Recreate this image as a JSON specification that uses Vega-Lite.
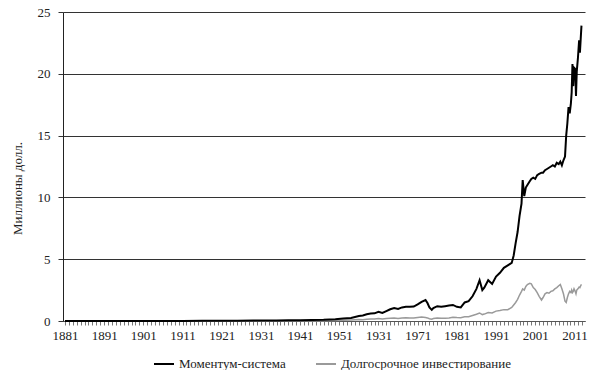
{
  "$schema": "https://vega.github.io/schema/vega-lite/v6.json",
  "width": 522,
  "height": 309,
  "autosize": {"type": "none"},
  "padding": {"left": 63, "top": 12, "right": 24, "bottom": 49},
  "background": "white",
  "config": {
    "font": "Liberation Serif",
    "view": {"stroke": null},
    "axis": {"labelFont": "Liberation Serif", "labelFontSize": 13, "labelColor": "#222", "titleFont": "Liberation Serif", "titleFontWeight": "normal", "titleColor": "#222"},
    "legend": {"labelFont": "Liberation Serif", "labelFontSize": 13, "labelColor": "#222", "labelLimit": 400}
  },
  "data": {"values": [
    {"t":1881,"m":0.001,"l":0.001},{"t":1886,"m":0.002,"l":0.002},{"t":1891,"m":0.003,"l":0.002},{"t":1896,"m":0.004,"l":0.003},
    {"t":1901,"m":0.006,"l":0.004},{"t":1906,"m":0.008,"l":0.005},{"t":1911,"m":0.01,"l":0.005},{"t":1916,"m":0.013,"l":0.006},
    {"t":1921,"m":0.015,"l":0.006},{"t":1925,"m":0.025,"l":0.01},{"t":1929,"m":0.04,"l":0.02},{"t":1932,"m":0.035,"l":0.008},
    {"t":1935,"m":0.05,"l":0.015},{"t":1938,"m":0.06,"l":0.015},{"t":1941,"m":0.07,"l":0.015},{"t":1944,"m":0.09,"l":0.025},
    {"t":1947,"m":0.1,"l":0.03},{"t":1950,"m":0.15,"l":0.04},{"t":1952,"m":0.2,"l":0.06},{"t":1954,"m":0.25,"l":0.09},
    {"t":1956,"m":0.4,"l":0.12},{"t":1957,"m":0.45,"l":0.11},{"t":1958,"m":0.55,"l":0.14},{"t":1959,"m":0.6,"l":0.16},
    {"t":1960,"m":0.62,"l":0.16},{"t":1961,"m":0.75,"l":0.2},{"t":1962,"m":0.65,"l":0.17},{"t":1963,"m":0.8,"l":0.2},
    {"t":1964,"m":0.95,"l":0.22},{"t":1965,"m":1.05,"l":0.24},{"t":1966,"m":0.98,"l":0.21},{"t":1967,"m":1.1,"l":0.25},
    {"t":1968,"m":1.15,"l":0.27},{"t":1969,"m":1.15,"l":0.25},{"t":1970,"m":1.17,"l":0.24},{"t":1971,"m":1.35,"l":0.28},
    {"t":1972,"m":1.55,"l":0.32},{"t":1973,"m":1.7,"l":0.28},{"t":1973.5,"m":1.45,"l":0.25},{"t":1974,"m":1.1,"l":0.18},
    {"t":1974.6,"m":0.9,"l":0.15},{"t":1975,"m":1.05,"l":0.2},{"t":1976,"m":1.2,"l":0.24},{"t":1977,"m":1.15,"l":0.22},
    {"t":1978,"m":1.2,"l":0.22},{"t":1979,"m":1.25,"l":0.25},{"t":1980,"m":1.3,"l":0.3},{"t":1981,"m":1.15,"l":0.28},
    {"t":1982,"m":1.1,"l":0.27},{"t":1983,"m":1.5,"l":0.35},{"t":1984,"m":1.6,"l":0.35},{"t":1985,"m":2.0,"l":0.45},
    {"t":1986,"m":2.6,"l":0.55},{"t":1986.8,"m":3.3,"l":0.65},{"t":1987.5,"m":2.5,"l":0.52},{"t":1988,"m":2.7,"l":0.56},
    {"t":1989,"m":3.3,"l":0.68},{"t":1990,"m":3.0,"l":0.65},{"t":1991,"m":3.6,"l":0.8},{"t":1992,"m":3.9,"l":0.85},
    {"t":1993,"m":4.3,"l":0.92},{"t":1994,"m":4.5,"l":0.92},{"t":1995,"m":4.7,"l":1.1},{"t":1995.5,"m":5.3,"l":1.3},
    {"t":1996,"m":6.3,"l":1.5},{"t":1996.5,"m":7.2,"l":1.75},{"t":1997,"m":8.5,"l":2.1},{"t":1997.5,"m":9.5,"l":2.4},
    {"t":1997.8,"m":11.4,"l":2.6},{"t":1998.2,"m":10.1,"l":2.5},{"t":1998.6,"m":10.8,"l":2.8},{"t":1999,"m":11.0,"l":2.95},
    {"t":1999.6,"m":11.3,"l":3.05},{"t":2000,"m":11.5,"l":3.0},{"t":2000.5,"m":11.6,"l":2.7},{"t":2001,"m":11.5,"l":2.55},
    {"t":2001.5,"m":11.8,"l":2.3},{"t":2002,"m":11.9,"l":2.0},{"t":2002.6,"m":12.0,"l":1.7},{"t":2003,"m":12.0,"l":1.9},
    {"t":2003.5,"m":12.2,"l":2.2},{"t":2004,"m":12.3,"l":2.3},{"t":2004.5,"m":12.4,"l":2.25},{"t":2005,"m":12.5,"l":2.4},
    {"t":2005.5,"m":12.6,"l":2.45},{"t":2006,"m":12.5,"l":2.6},{"t":2006.5,"m":12.8,"l":2.7},{"t":2007,"m":12.7,"l":2.85},
    {"t":2007.4,"m":12.9,"l":2.95},{"t":2007.8,"m":12.6,"l":2.6},{"t":2008.2,"m":13.0,"l":2.2},{"t":2008.6,"m":13.3,"l":1.6},
    {"t":2008.9,"m":15.0,"l":1.5},{"t":2009.2,"m":16.0,"l":1.9},{"t":2009.5,"m":17.3,"l":2.2},{"t":2009.8,"m":16.8,"l":2.4},
    {"t":2010.1,"m":17.6,"l":2.3},{"t":2010.3,"m":18.5,"l":2.5},{"t":2010.5,"m":20.8,"l":2.3},{"t":2010.7,"m":19.0,"l":2.4},
    {"t":2010.9,"m":20.5,"l":2.6},{"t":2011.2,"m":20.4,"l":2.4},{"t":2011.4,"m":18.2,"l":2.2},{"t":2011.6,"m":20.2,"l":2.5},
    {"t":2011.9,"m":21.3,"l":2.6},{"t":2012.2,"m":22.7,"l":2.75},{"t":2012.4,"m":21.7,"l":2.7},{"t":2012.6,"m":22.8,"l":2.85},
    {"t":2012.8,"m":23.9,"l":2.97}
  ]},
  "transform": [{"fold": ["l", "m"], "as": ["s", "v"]}],
  "encoding": {
    "x": {
      "field": "t", "type": "quantitative",
      "scale": {"domain": [1880.5, 2013.7], "nice": false, "zero": false},
      "axis": {
        "title": null,
        "values": [1881,1882,1883,1884,1885,1886,1887,1888,1889,1890,1891,1892,1893,1894,1895,1896,1897,1898,1899,1900,1901,1902,1903,1904,1905,1906,1907,1908,1909,1910,1911,1912,1913,1914,1915,1916,1917,1918,1919,1920,1921,1922,1923,1924,1925,1926,1927,1928,1929,1930,1931,1932,1933,1934,1935,1936,1937,1938,1939,1940,1941,1942,1943,1944,1945,1946,1947,1948,1949,1950,1951,1952,1953,1954,1955,1956,1957,1958,1959,1960,1961,1962,1963,1964,1965,1966,1967,1968,1969,1970,1971,1972,1973,1974,1975,1976,1977,1978,1979,1980,1981,1982,1983,1984,1985,1986,1987,1988,1989,1990,1991,1992,1993,1994,1995,1996,1997,1998,1999,2000,2001,2002,2003,2004,2005,2006,2007,2008,2009,2010,2011,2012,2013],
        "format": "d",
        "labelExpr": "(datum.value - 1881) % 10 == 0 ? (datum.value == 1961 ? '1931' : datum.label) : ''",
        "labelOverlap": false,
        "labelPadding": 4,
        "tickSize": 4,
        "tickColor": "#777",
        "domainColor": "#555",
        "grid": false
      }
    },
    "y": {
      "field": "v", "type": "quantitative",
      "scale": {"domain": [0, 25], "nice": false},
      "axis": {
        "title": "Миллионы долл.",
        "titleFontSize": 13,
        "titleX": -46,
        "titleY": 176,
        "titleBaseline": "middle",
        "titleAlign": "center",
        "values": [0, 5, 10, 15, 20, 25],
        "tickSize": 5,
        "tickColor": "#333",
        "labelPadding": 8,
        "domainColor": "#222",
        "grid": true,
        "gridColor": "#333",
        "gridWidth": 1
      }
    },
    "color": {
      "field": "s", "type": "nominal",
      "scale": {"domain": ["m", "l"], "range": ["#000000", "#9a9a9a"]},
      "legend": {
        "title": null,
        "orient": "none",
        "direction": "horizontal",
        "legendX": 90,
        "legendY": 341,
        "symbolType": "stroke",
        "symbolSize": 400,
        "symbolStrokeWidth": 2,
        "labelOffset": 4,
        "columnPadding": 26,
        "labelLimit": 400,
        "labelExpr": "datum.value == 'm' ? 'Моментум-система' : 'Долгосрочное инвестирование'"
      }
    }
  },
  "layer": [
    {"transform": [{"filter": "datum.s == 'l'"}], "mark": {"type": "line", "strokeWidth": 1.5}},
    {"transform": [{"filter": "datum.s == 'm'"}], "mark": {"type": "line", "strokeWidth": 2}}
  ]
}
